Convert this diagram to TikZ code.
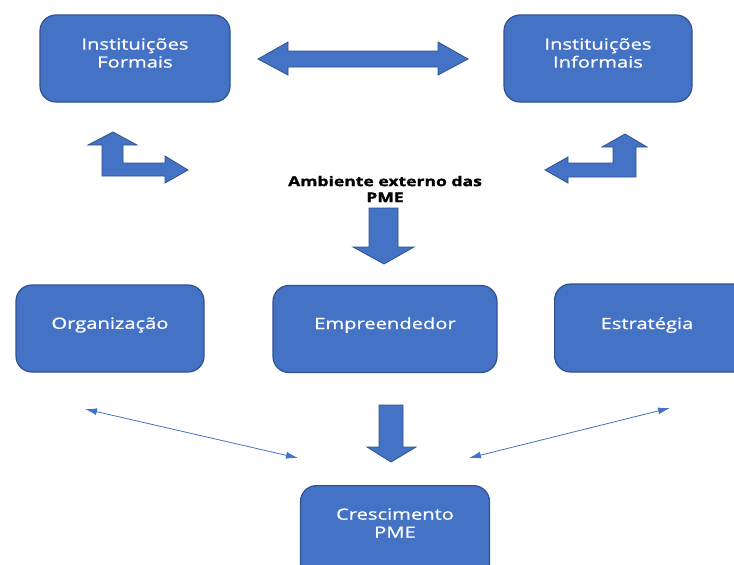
\documentclass[tikz,border=0pt]{standalone}
\usepackage{fontspec}
\setmainfont{Open Sans}
\newfontfamily\boxfont[FakeStretch=1.3,FakeBold=0.8]{Open Sans}
\newfontfamily\headfont[FakeStretch=1.3,FakeBold=1.5]{Open Sans}
\usetikzlibrary{arrows.meta}
\definecolor{boxfill}{HTML}{4472C4}
\definecolor{boxline}{HTML}{2F528F}
\begin{document}
\begin{tikzpicture}[x=1pt,y=-1pt,
  blockbox/.style={draw=boxline,line width=1.2pt,fill=boxfill,rounded corners=16pt,inner sep=0pt},
  boxtext/.style={text=white,align=center,inner sep=0pt,font=\boxfont\fontsize{15.5}{18}\selectfont},
  fatarrow/.style={draw=boxline,line width=0.8pt,fill=boxfill,line join=miter},
  thinarrow/.style={draw=boxfill,line width=0.8pt,{Latex[length=12pt,width=7pt]}-{Latex[length=12pt,width=7pt]}}]
\clip (0,0) rectangle (734,565);
\fill[white] (0,0) rectangle (734,565);

% boxes
\node[blockbox,minimum width=190pt,minimum height=87pt] (formal) at (135,58.5) {};
\node[boxtext] (formaltxt) at (135,53) {Instituições\\Formais};
\node[blockbox,minimum width=188pt,minimum height=87pt] (informal) at (598,58.5) {};
\node[boxtext] (informaltxt) at (598,53) {Instituições\\Informais};
\node[blockbox,minimum width=188pt,minimum height=87pt] (org) at (110,328.5) {};
\node[boxtext] (orgtxt) at (110,325) {Organização};
\node[blockbox,minimum width=224pt,minimum height=87pt] (emp) at (385,329) {};
\node[boxtext] (emptxt) at (385,325) {Empreendedor};
\node[blockbox,minimum width=200pt,minimum height=88pt,anchor=west] (estr) at (554,328) {};
\node[boxtext] (estrtxt) at (647,325) {Estratégia};
\node[blockbox,minimum width=189pt,minimum height=110pt,anchor=north] (cresc) at (395,485) {};
\node[boxtext] (cresctxt) at (395,523) {Crescimento\\PME};

% central label
\node[align=center,font=\headfont\bfseries\fontsize{13.5}{16}\selectfont,inner sep=0pt] (amb) at (385,189) {Ambiente externo das\\PME};

% double horizontal arrow between the institutions
\filldraw[fatarrow] (258,59) -- (288,42) -- (288,51) -- (438,51) -- (438,42) -- (468,59)
  -- (438,75) -- (438,67) -- (288,67) -- (288,75) -- cycle;

% bent arrow, left
\filldraw[fatarrow] (102,176) -- (102,145) -- (88,145) -- (113,132) -- (137,145) -- (123,145)
  -- (123,163) -- (165,163) -- (165,156) -- (188,170) -- (165,183) -- (165,176) -- cycle;

% bent arrow, right
\filldraw[fatarrow] (636,177) -- (636,147) -- (647,147) -- (625,134) -- (602,147) -- (613,147)
  -- (613,163) -- (568,163) -- (568,157) -- (545,170) -- (568,183) -- (568,177) -- cycle;

% downward arrows
\filldraw[fatarrow] (369,208) -- (398,208) -- (398,247) -- (414,247) -- (384,264)
  -- (353,247) -- (369,247) -- cycle;
\filldraw[fatarrow] (379,405) -- (403,405) -- (403,447) -- (416,447) -- (391,462)
  -- (367,447) -- (379,447) -- cycle;

% thin connectors
\coordinate (orgend) at (85,409);
\coordinate (crescleft) at (298,458);
\coordinate (estrend) at (670,408);
\coordinate (crescright) at (469,458);
\draw[thinarrow] (orgend) -- (crescleft);
\draw[thinarrow] (estrend) -- (crescright);
\end{tikzpicture}
\end{document}
